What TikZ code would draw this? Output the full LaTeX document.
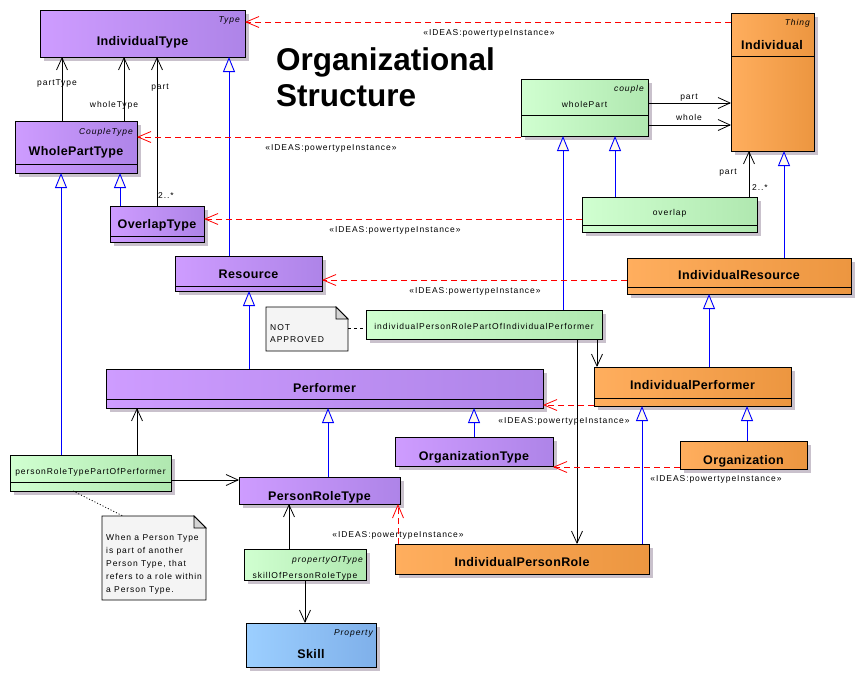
\documentclass[tikz,border=0pt]{standalone}
\usepackage{fontspec}
\setmainfont{Liberation Sans}
\newfontfamily\labfont[LetterSpace=11]{Liberation Sans}
\newfontfamily\clsfontfam[LetterSpace=3]{Liberation Sans}
\usetikzlibrary{arrows.meta}
\definecolor{purL}{HTML}{CE9CFF}
\definecolor{purR}{HTML}{AE84E8}
\definecolor{orgL}{HTML}{FFAE5E}
\definecolor{orgR}{HTML}{EC9640}
\definecolor{grnL}{HTML}{D0FFD0}
\definecolor{grnR}{HTML}{B0E8B0}
\definecolor{bluL}{HTML}{9CCFFF}
\definecolor{bluR}{HTML}{7FB0EA}
\definecolor{shd}{HTML}{C9C1CC}
\definecolor{genblue}{HTML}{0000FF}
\definecolor{cream}{HTML}{FFFBEC}
\definecolor{notefill}{HTML}{F4F4F4}
\definecolor{foldgray}{HTML}{D4D4D4}
\newcommand\smallf{\labfont\fontsize{8.5}{10}\selectfont}
\newcommand\sterf{\labfont\itshape\fontsize{8.5}{10}\selectfont}
\newcommand\boldf{\clsfontfam\bfseries\fontsize{12.5}{14}\selectfont}
\newcommand\umlbox[6]{%
  \fill[shd] (#2+4,#3+4) rectangle (#4+4,#5+4);
  \node[#6, minimum width={#4-#2}, minimum height={#5-#3}, anchor=north west] (#1) at (#2,#3) {};}
\tikzset{
  box/.style={draw=black, line width=1pt, inner sep=0pt, outer sep=0pt, shading angle=90},
  purbox/.style={box, left color=purL, right color=purR},
  orgbox/.style={box, left color=orgL, right color=orgR},
  grnbox/.style={box, left color=grnL, right color=grnR},
  blubox/.style={box, left color=bluL, right color=bluR},
  compline/.style={draw=black, line width=0.9pt},
  tlab/.style={inner sep=0pt, font=\smallf, anchor=base},
  stereo/.style={inner sep=0pt, font=\sterf, anchor=base east},
  cname/.style={inner sep=0pt, font=\boldf, anchor=base},
  gen/.style={draw=genblue, line width=0.9pt, -{Triangle[length=15pt,width=12pt,fill=cream]}},
  assoc/.style={draw=black, line width=0.8pt, -{Straight Barb[length=12pt,width=11pt]}},
  real/.style={draw=red, line width=0.8pt, dash pattern=on 6pt off 4pt, -{Straight Barb[length=13pt,width=11pt]}},
  notebox/.style={fill=notefill, draw=black, line width=0.8pt},
  foldbox/.style={fill=foldgray, draw=black, line width=0.8pt},
}
\begin{document}
\begin{tikzpicture}[x=1pt,y=-1pt]
\useasboundingbox[fill=white] (0,0) rectangle (862,678);
% ---------- boxes ----------
\umlbox{it}{40}{10}{245}{57}{purbox}
\umlbox{wpt}{15}{121}{137}{173}{purbox}
\umlbox{ot}{110}{206}{204}{242}{purbox}
\umlbox{res}{175}{256}{322}{291}{purbox}
\umlbox{perf}{106}{369}{543}{408}{purbox}
\umlbox{orgt}{395}{437}{553}{466}{purbox}
\umlbox{prt}{239}{477}{400}{504}{purbox}
\umlbox{ind}{731}{13}{814}{151}{orgbox}
\umlbox{ires}{627}{258}{851}{294}{orgbox}
\umlbox{iperf}{594}{367}{791}{406}{orgbox}
\umlbox{org}{680}{441}{807}{469}{orgbox}
\umlbox{iprole}{395}{544}{649}{574}{orgbox}
\umlbox{wp}{521}{79}{648}{136}{grnbox}
\umlbox{ovl}{582}{197}{757}{232}{grnbox}
\umlbox{iprp}{366}{310}{602}{339}{grnbox}
\umlbox{prtp}{10}{455}{171}{491}{grnbox}
\umlbox{skp}{244}{549}{366}{580}{grnbox}
\umlbox{skill}{246}{623}{376}{667}{blubox}
% compartments
\draw[compline] (wpt.west |- 0,164) -- (wpt.east |- 0,164);
\draw[compline] (ot.west |- 0,236) -- (ot.east |- 0,236);
\draw[compline] (res.west |- 0,286) -- (res.east |- 0,286);
\draw[compline] (perf.west |- 0,399) -- (perf.east |- 0,399);
\draw[compline] (iperf.west |- 0,398) -- (iperf.east |- 0,398);
\draw[compline] (ires.west |- 0,287) -- (ires.east |- 0,287);
\draw[compline] (ind.west |- 0,56) -- (ind.east |- 0,56);
\draw[compline] (wp.west |- 0,115) -- (wp.east |- 0,115);
\draw[compline] (ovl.west |- 0,225) -- (ovl.east |- 0,225);
\draw[compline] (prtp.west |- 0,482) -- (prtp.east |- 0,482);
% ---------- box texts ----------
\node[stereo] (itS) at (240,22) {Type};
\node[cname] (itN) at (142.5,45) {IndividualType};
\node[stereo] (wptS) at (133,134) {CoupleType};
\node[cname] (wptN) at (76,155) {WholePartType};
\node[cname] (otN) at (157,228) {OverlapType};
\node[cname] (resN) at (248.5,278) {Resource};
\node[cname] (perfN) at (324.5,392) {Performer};
\node[cname] (orgtN) at (474,460) {OrganizationType};
\node[cname] (prtN) at (319.5,500) {PersonRoleType};
\node[stereo] (indS) at (810,25) {Thing};
\node[cname] (indN) at (772,49) {Individual};
\node[cname] (iresN) at (739,279) {IndividualResource};
\node[cname] (iperfN) at (692.5,389) {IndividualPerformer};
\node[cname] (orgN) at (743.5,464) {Organization};
\node[cname] (iproleN) at (522,566) {IndividualPersonRole};
\node[stereo] (wpS) at (644,91) {couple};
\node[tlab] (wpN) at (584.5,107) {wholePart};
\node[tlab] (ovlN) at (669.5,215) {overlap};
\node[tlab] (iprpN) at (484,329) {individualPersonRolePartOfIndividualPerformer};
\node[tlab] (prtpN) at (90.5,474) {personRoleTypePartOfPerformer};
\node[stereo] (skpS) at (363,562) {propertyOfType};
\node[tlab] (skpN) at (305,578) {skillOfPersonRoleType};
\node[stereo] (skillS) at (373,635) {Property};
\node[cname] (skillN) at (311,658) {Skill};
% ---------- title ----------
\node[inner sep=0pt, anchor=base west, font=\bfseries\fontsize{31.5}{36}\selectfont] (title1) at (276,70) {Organizational};
\node[inner sep=0pt, anchor=base west, font=\bfseries\fontsize{31.5}{36}\selectfont] (title2) at (276,106) {Structure};
% ---------- notes ----------
\node[minimum width=82, minimum height=44, anchor=north west, inner sep=0pt, outer sep=0pt] (note1) at (266,307) {};
\draw[notebox] (note1.north west) -- ([xshift=-12pt]note1.north east) -- ([yshift=-12pt]note1.north east) -- (note1.south east) -- (note1.south west) -- cycle;
\draw[foldbox] ([xshift=-12pt]note1.north east) -- ([xshift=-12pt,yshift=-12pt]note1.north east) -- ([yshift=-12pt]note1.north east) -- cycle;
\node[tlab, anchor=base west] (n1a) at (270,330) {NOT};
\node[tlab, anchor=base west] (n1b) at (270,342) {APPROVED};
\node[minimum width=104, minimum height=84, anchor=north west, inner sep=0pt, outer sep=0pt] (note2) at (102,516) {};
\draw[notebox] (note2.north west) -- ([xshift=-12pt]note2.north east) -- ([yshift=-12pt]note2.north east) -- (note2.south east) -- (note2.south west) -- cycle;
\draw[foldbox] ([xshift=-12pt]note2.north east) -- ([xshift=-12pt,yshift=-12pt]note2.north east) -- ([yshift=-12pt]note2.north east) -- cycle;
\node[tlab, anchor=base west] (n2a) at (106,540) {When a Person Type};
\node[tlab, anchor=base west] (n2b) at (106,553) {is part of another};
\node[tlab, anchor=base west] (n2c) at (106,566) {Person Type, that};
\node[tlab, anchor=base west] (n2d) at (106,579) {refers to a role within};
\node[tlab, anchor=base west] (n2e) at (106,592) {a Person Type.};
\draw[line width=0.8pt, dash pattern=on 3pt off 3pt] (note1.east |- 0,328) -- (iprp.west |- 0,328);
\draw[line width=0.8pt, dash pattern=on 1pt off 2pt] (prtp.south -| 73,0) -- (note2.north -| 123,0);
% ---------- generalizations ----------
\draw[gen] (ot.north -| 120,0) -- (wpt.south -| 120,0);
\draw[gen] (prtp.north -| 61,0) -- (wpt.south -| 61,0);
\draw[gen] (res.north -| 229,0) -- (it.south -| 229,0);
\draw[gen] (perf.north -| 249,0) -- (res.south -| 249,0);
\draw[gen] (prt.north -| 328,0) -- (perf.south -| 328,0);
\draw[gen] (orgt.north -| 474,0) -- (perf.south -| 474,0);
\draw[gen] (ovl.north -| 615,0) -- (wp.south -| 615,0);
\draw[gen] (iprp.north -| 563,0) -- (wp.south -| 563,0);
\draw[gen] (ires.north -| 784,0) -- (ind.south -| 784,0);
\draw[gen] (iperf.north -| 709,0) -- (ires.south -| 709,0);
\draw[gen] (org.north -| 747,0) -- (iperf.south -| 747,0);
\draw[gen] (iprole.north -| 642,0) -- (iperf.south -| 642,0);
% ---------- associations ----------
\draw[assoc] (wpt.north -| 62,0) -- (it.south -| 62,0);
\draw[assoc] (wpt.north -| 124,0) -- (it.south -| 124,0);
\draw[assoc] (ot.north -| 157,0) -- (it.south -| 157,0);
\draw[assoc] (prtp.north -| 137,0) -- (perf.south -| 137,0);
\draw[assoc] (prtp.east |- 0,480) -- (prt.west |- 0,480);
\draw[assoc] (skp.north -| 289,0) -- (prt.south -| 289,0);
\draw[assoc] (skp.south -| 305,0) -- (skill.north -| 305,0);
\draw[assoc] (wp.east |- 0,103) -- (ind.west |- 0,103);
\draw[assoc] (wp.east |- 0,125) -- (ind.west |- 0,125);
\draw[assoc] (ovl.north -| 749,0) -- (ind.south -| 749,0);
\draw[assoc] (iprp.south -| 597,0) -- (iperf.north -| 597,0);
\draw[assoc] (iprp.south -| 577,0) -- (iprole.north -| 577,0);
% ---------- powertype instances ----------
\draw[real] (ind.west |- 0,22) -- (it.east |- 0,22);
\draw[real] (wp.west |- 0,137) -- (wpt.east |- 0,137);
\draw[real] (ovl.west |- 0,219) -- (ot.east |- 0,219);
\draw[real] (ires.west |- 0,280) -- (res.east |- 0,280);
\draw[real] (iperf.west |- 0,405) -- (perf.east |- 0,405);
\draw[real] (org.west |- 0,467) -- (orgt.east |- 0,467);
\draw[real] (iprole.north -| 398,0) -- (prt.south -| 398,0);
% ---------- connector labels ----------
\node[tlab] (lpt) at (57,85) {partType};
\node[tlab] (lwt) at (114,107) {wholeType};
\node[tlab] (lpart1) at (160,89) {part};
\node[tlab] (lm1) at (166,198) {2..*};
\node[tlab] (lpart2) at (689,99) {part};
\node[tlab] (lwhole) at (689,120) {whole};
\node[tlab] (lpart3) at (728,174) {part};
\node[tlab] (lm2) at (760,190) {2..*};
\node[tlab] (pt1) at (489,35) {«IDEAS:powertypeInstance»};
\node[tlab] (pt2) at (331,150) {«IDEAS:powertypeInstance»};
\node[tlab] (pt3) at (395,232) {«IDEAS:powertypeInstance»};
\node[tlab] (pt4) at (475,293) {«IDEAS:powertypeInstance»};
\node[tlab] (pt5) at (564,423) {«IDEAS:powertypeInstance»};
\node[tlab] (pt6) at (716,481) {«IDEAS:powertypeInstance»};
\node[tlab] (pt7) at (398,537) {«IDEAS:powertypeInstance»};
\end{tikzpicture}
\end{document}
